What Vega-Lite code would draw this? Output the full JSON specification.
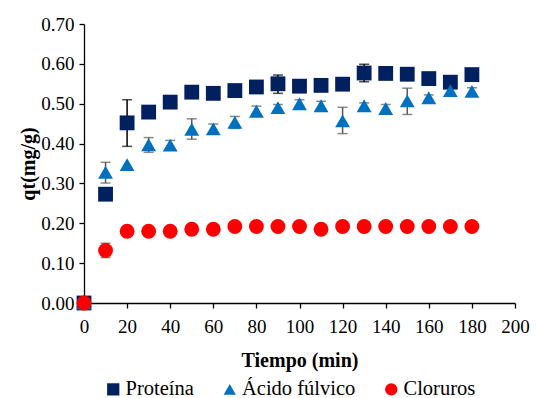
{
  "$schema": "https://vega.github.io/schema/vega-lite/v6.json",
  "width": 431,
  "height": 279,
  "autosize": "none",
  "padding": {"left": 84, "top": 24, "right": 21, "bottom": 95},
  "background": "white",
  "config": {
    "view": {"stroke": null},
    "font": "Liberation Serif",
    "axis": {"grid": false, "domainColor": "black", "tickColor": "black", "labelColor": "black", "titleColor": "black", "labelFont": "Liberation Serif", "titleFont": "Liberation Serif", "labelFontSize": 19, "titleFontSize": 20, "titleFontWeight": "bold", "tickSize": 5, "domainWidth": 1.3, "tickWidth": 1.3, "labelFlush": false, "labelOverlap": false}
  },
  "data": {"values": [
    {"t": 0, "serie": "Proteína", "qt": 0.0},
    {"t": 10, "serie": "Proteína", "qt": 0.273},
    {"t": 20, "serie": "Proteína", "qt": 0.452, "lo": 0.393, "hi": 0.510},
    {"t": 30, "serie": "Proteína", "qt": 0.479, "lo": 0.468, "hi": 0.492},
    {"t": 40, "serie": "Proteína", "qt": 0.504},
    {"t": 50, "serie": "Proteína", "qt": 0.529},
    {"t": 60, "serie": "Proteína", "qt": 0.526},
    {"t": 70, "serie": "Proteína", "qt": 0.533},
    {"t": 80, "serie": "Proteína", "qt": 0.542},
    {"t": 90, "serie": "Proteína", "qt": 0.550, "lo": 0.526, "hi": 0.572},
    {"t": 100, "serie": "Proteína", "qt": 0.544},
    {"t": 110, "serie": "Proteína", "qt": 0.546},
    {"t": 120, "serie": "Proteína", "qt": 0.549},
    {"t": 130, "serie": "Proteína", "qt": 0.577, "lo": 0.555, "hi": 0.599},
    {"t": 140, "serie": "Proteína", "qt": 0.576},
    {"t": 150, "serie": "Proteína", "qt": 0.574},
    {"t": 160, "serie": "Proteína", "qt": 0.563},
    {"t": 170, "serie": "Proteína", "qt": 0.554},
    {"t": 180, "serie": "Proteína", "qt": 0.573},
    {"t": 0, "serie": "Ácido fúlvico", "qt": 0.0},
    {"t": 10, "serie": "Ácido fúlvico", "qt": 0.328, "lo": 0.301, "hi": 0.353},
    {"t": 20, "serie": "Ácido fúlvico", "qt": 0.347},
    {"t": 30, "serie": "Ácido fúlvico", "qt": 0.397, "lo": 0.378, "hi": 0.415},
    {"t": 40, "serie": "Ácido fúlvico", "qt": 0.396, "lo": 0.386, "hi": 0.408},
    {"t": 50, "serie": "Ácido fúlvico", "qt": 0.436, "lo": 0.411, "hi": 0.462},
    {"t": 60, "serie": "Ácido fúlvico", "qt": 0.437, "lo": 0.426, "hi": 0.449},
    {"t": 70, "serie": "Ácido fúlvico", "qt": 0.453, "lo": 0.438, "hi": 0.468},
    {"t": 80, "serie": "Ácido fúlvico", "qt": 0.481, "lo": 0.469, "hi": 0.494},
    {"t": 90, "serie": "Ácido fúlvico", "qt": 0.490, "lo": 0.482, "hi": 0.498},
    {"t": 100, "serie": "Ácido fúlvico", "qt": 0.500, "lo": 0.490, "hi": 0.510},
    {"t": 110, "serie": "Ácido fúlvico", "qt": 0.495, "lo": 0.484, "hi": 0.506},
    {"t": 120, "serie": "Ácido fúlvico", "qt": 0.457, "lo": 0.425, "hi": 0.491},
    {"t": 130, "serie": "Ácido fúlvico", "qt": 0.495, "lo": 0.488, "hi": 0.502},
    {"t": 140, "serie": "Ácido fúlvico", "qt": 0.488, "lo": 0.480, "hi": 0.498},
    {"t": 150, "serie": "Ácido fúlvico", "qt": 0.507, "lo": 0.473, "hi": 0.539},
    {"t": 160, "serie": "Ácido fúlvico", "qt": 0.515, "lo": 0.508, "hi": 0.522},
    {"t": 170, "serie": "Ácido fúlvico", "qt": 0.533},
    {"t": 180, "serie": "Ácido fúlvico", "qt": 0.531, "lo": 0.524, "hi": 0.540},
    {"t": 0, "serie": "Cloruros", "qt": 0.0},
    {"t": 10, "serie": "Cloruros", "qt": 0.132, "lo": 0.114, "hi": 0.150},
    {"t": 20, "serie": "Cloruros", "qt": 0.180},
    {"t": 30, "serie": "Cloruros", "qt": 0.180},
    {"t": 40, "serie": "Cloruros", "qt": 0.180},
    {"t": 50, "serie": "Cloruros", "qt": 0.185},
    {"t": 60, "serie": "Cloruros", "qt": 0.185},
    {"t": 70, "serie": "Cloruros", "qt": 0.192},
    {"t": 80, "serie": "Cloruros", "qt": 0.192},
    {"t": 90, "serie": "Cloruros", "qt": 0.192},
    {"t": 100, "serie": "Cloruros", "qt": 0.192},
    {"t": 110, "serie": "Cloruros", "qt": 0.185},
    {"t": 120, "serie": "Cloruros", "qt": 0.192},
    {"t": 130, "serie": "Cloruros", "qt": 0.192},
    {"t": 140, "serie": "Cloruros", "qt": 0.192},
    {"t": 150, "serie": "Cloruros", "qt": 0.192},
    {"t": 160, "serie": "Cloruros", "qt": 0.192},
    {"t": 170, "serie": "Cloruros", "qt": 0.192},
    {"t": 180, "serie": "Cloruros", "qt": 0.192}
  ]},
  "encoding": {
    "x": {"field": "t", "type": "quantitative", "scale": {"domain": [0, 200], "nice": false},
      "axis": {"values": [0, 20, 40, 60, 80, 100, 120, 140, 160, 180, 200], "title": "Tiempo (min)", "labelPadding": 9, "titlePadding": 14}}
  },
  "layer": [
    {
      "transform": [{"filter": "isValid(datum.lo)"}, {"filter": "datum.serie == 'Proteína'"}],
      "layer": [
        {"mark": {"type": "rule", "color": "black", "strokeWidth": 1.5}, "encoding": {"y": {"field": "lo", "type": "quantitative", "scale": {"domain": [0, 0.7], "nice": false}, "axis": {"values": [0, 0.1, 0.2, 0.3, 0.4, 0.5, 0.6, 0.7], "format": ".2f", "title": "qt(mg/g)", "labelPadding": 5, "titlePadding": 2}}, "y2": {"field": "hi"}}},
        {"mark": {"type": "tick", "color": "black", "size": 10, "thickness": 1.5, "orient": "horizontal"}, "encoding": {"y": {"field": "lo", "type": "quantitative", "axis": {"values": [0, 0.1, 0.2, 0.3, 0.4, 0.5, 0.6, 0.7], "format": ".2f", "title": "qt(mg/g)", "labelPadding": 5, "titlePadding": 2}}}},
        {"mark": {"type": "tick", "color": "black", "size": 10, "thickness": 1.5, "orient": "horizontal"}, "encoding": {"y": {"field": "hi", "type": "quantitative", "axis": {"values": [0, 0.1, 0.2, 0.3, 0.4, 0.5, 0.6, 0.7], "format": ".2f", "title": "qt(mg/g)", "labelPadding": 5, "titlePadding": 2}}}}
      ]
    },
    {
      "transform": [{"filter": "isValid(datum.lo)"}, {"filter": "datum.serie != 'Proteína'"}],
      "layer": [
        {"mark": {"type": "rule", "color": "#595959", "strokeWidth": 1.5}, "encoding": {"y": {"field": "lo", "type": "quantitative", "axis": {"values": [0, 0.1, 0.2, 0.3, 0.4, 0.5, 0.6, 0.7], "format": ".2f", "title": "qt(mg/g)", "labelPadding": 5, "titlePadding": 2}}, "y2": {"field": "hi"}}},
        {"mark": {"type": "tick", "color": "#595959", "size": 10, "thickness": 1.5, "orient": "horizontal"}, "encoding": {"y": {"field": "lo", "type": "quantitative", "axis": {"values": [0, 0.1, 0.2, 0.3, 0.4, 0.5, 0.6, 0.7], "format": ".2f", "title": "qt(mg/g)", "labelPadding": 5, "titlePadding": 2}}}},
        {"mark": {"type": "tick", "color": "#595959", "size": 10, "thickness": 1.5, "orient": "horizontal"}, "encoding": {"y": {"field": "hi", "type": "quantitative", "axis": {"values": [0, 0.1, 0.2, 0.3, 0.4, 0.5, 0.6, 0.7], "format": ".2f", "title": "qt(mg/g)", "labelPadding": 5, "titlePadding": 2}}}}
      ]
    },
    {
      "mark": {"type": "point", "filled": true, "opacity": 1, "size": 220},
      "encoding": {
        "y": {"field": "qt", "type": "quantitative", "scale": {"domain": [0, 0.7], "nice": false},
          "axis": {"values": [0, 0.1, 0.2, 0.3, 0.4, 0.5, 0.6, 0.7], "format": ".2f", "title": "qt(mg/g)", "labelPadding": 5, "titlePadding": 2}},
        "color": {"field": "serie", "type": "nominal", "scale": {"domain": ["Proteína", "Ácido fúlvico", "Cloruros"], "range": ["#002060", "#0070C0", "#FF0000"]},
          "legend": {"title": null, "orient": "none", "direction": "horizontal", "legendX": 19, "legendY": 355, "labelFont": "Liberation Serif", "labelFontSize": 20.5, "labelColor": "black", "symbolSize": 150, "symbolOpacity": 1, "columnPadding": 25.5, "labelOffset": 2, "padding": 0}},
        "shape": {"field": "serie", "type": "nominal", "scale": {"domain": ["Proteína", "Ácido fúlvico", "Cloruros"], "range": ["square", "triangle-up", "circle"]}}
      }
    }
  ]
}
